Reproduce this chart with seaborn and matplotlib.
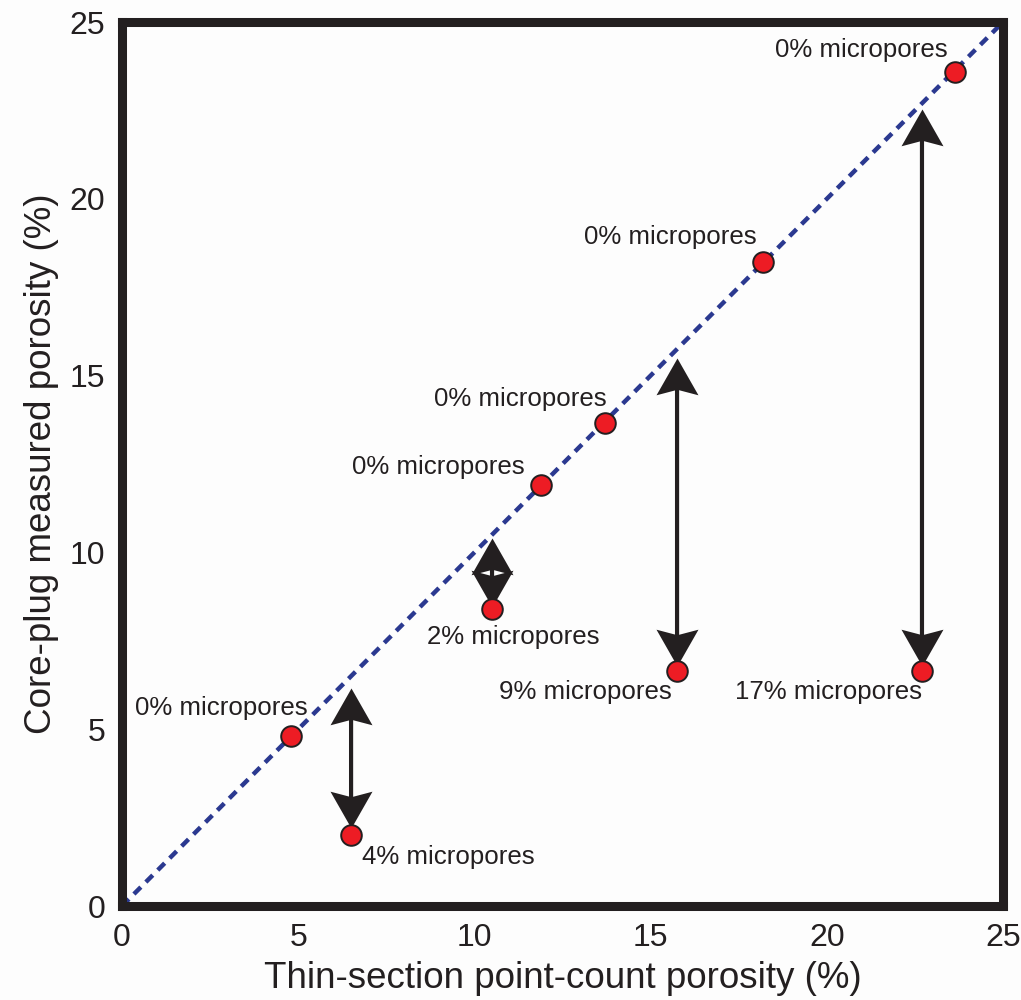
import matplotlib
matplotlib.use("Agg")
import matplotlib.pyplot as plt
import pandas as pd
import seaborn as sns
from matplotlib.path import Path

# thin-section vs core-plug porosity (%)
thin_section = [4.8, 6.5, 10.5, 11.9, 13.7, 15.75, 18.2, 22.7, 23.65]
core_plug = [4.8, 2.0, 8.4, 11.9, 13.65, 6.65, 18.2, 6.65, 23.6]
labels = ["0% micropores", "4% micropores", "2% micropores", "0% micropores",
          "0% micropores", "9% micropores", "0% micropores", "17% micropores",
          "0% micropores"]

# double arrows showing the micropore gap
arrow_x = [6.5, 10.5, 15.75, 22.7]
arrow_top = [6.17, 10.4, 15.5, 22.55]
arrow_bottom = [2.2, 8.45, 6.8, 6.78]

# text placement (data coords) and alignment
label_pos = [(5.28, 5.6), (6.8, 1.39), (8.65, 7.62), (11.42, 12.41), (13.76, 14.34),
             (15.6, 6.05), (18.02, 18.92), (22.7, 6.05), (23.44, 24.22)]
label_ha = ["right", "left", "left", "right", "right", "right", "right", "right", "right"]

INK = "#231f20"

# notched arrow head, tip at the origin
head_up = Path([(0, 0), (-0.57, -1), (0, -0.85), (0.57, -1), (0, 0)],
               [Path.MOVETO, Path.LINETO, Path.LINETO, Path.LINETO, Path.CLOSEPOLY])
head_down = Path([(0, 0), (-0.57, 1), (0, 0.85), (0.57, 1), (0, 0)],
                 [Path.MOVETO, Path.LINETO, Path.LINETO, Path.LINETO, Path.CLOSEPOLY])

sns.set_style("white")
plt.rcParams["font.family"] = ["Liberation Sans", "DejaVu Sans"]

fig = plt.figure(figsize=(10.21, 10.0), dpi=100)
fig.patch.set_facecolor("#fdfdfd")
ax = fig.add_axes([0.1195, 0.094, 0.8629, 0.884])
ax.set_facecolor("#fdfdfd")

line_df = pd.DataFrame({"x": [0, 25], "y": [0, 25]})
sns.lineplot(data=line_df, x="x", y="y", ax=ax, color="#2b3990", lw=3.2, zorder=1)
ax.lines[-1].set_dashes((2.2, 1.6))

for x, top, bot in zip(arrow_x, arrow_top, arrow_bottom):
    ax.annotate("", xy=(x, top), xytext=(x, bot),
                arrowprops=dict(arrowstyle="-", color=INK, lw=3.0,
                                shrinkA=14, shrinkB=14),
                zorder=3)
    ax.plot([x], [top], marker=head_up, ms=53, color=INK, mec="none", zorder=3)
    ax.plot([x], [bot], marker=head_down, ms=53, color=INK, mec="none", zorder=3)

pts = pd.DataFrame({"thin": thin_section, "core": core_plug})
sns.scatterplot(data=pts, x="thin", y="core", ax=ax, s=220, color="#ed1c24",
                edgecolor=INK, linewidth=1.4, zorder=4)

for lab, (tx, ty), ha in zip(labels, label_pos, label_ha):
    ax.text(tx, ty, lab, ha=ha, va="center", fontsize=18.6, color=INK, zorder=5)

ax.set_xlim(0, 25)
ax.set_ylim(0, 25)
ax.set_xticks([0, 5, 10, 15, 20, 25])
ax.set_yticks([0, 5, 10, 15, 20, 25])
ax.tick_params(direction="out", length=7, width=3, colors=INK, labelsize=23, pad=5)
for s in ax.spines.values():
    s.set_linewidth(6.5)
    s.set_color(INK)
ax.set_xlabel("Thin-section point-count porosity (%)", fontsize=26.5, color=INK, labelpad=6)
ax.set_ylabel("Core-plug measured porosity (%)", fontsize=26.5, color=INK, labelpad=8)

fig.savefig("out.png", dpi=100, facecolor=fig.get_facecolor())
